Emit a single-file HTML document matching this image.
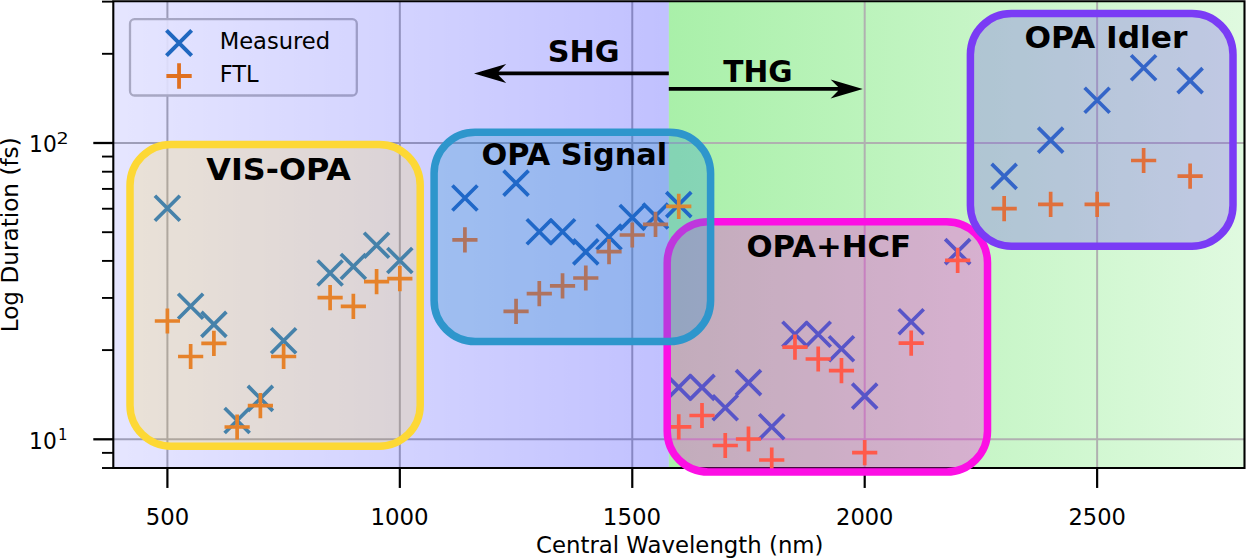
<!DOCTYPE html>
<html><head><meta charset="utf-8"><title>Pulse duration vs central wavelength</title>
<style>html,body{margin:0;padding:0;background:#fff;}body{width:1246px;height:558px;overflow:hidden;}svg{display:block;}text{font-family:"DejaVu Sans","Liberation Sans",sans-serif;fill:#000;}.b{font-weight:bold;font-size:29.3px;}.t{font-size:22.5px;}.s{font-size:15.8px;}</style>
</head><body>
<svg width="1246" height="558" viewBox="0 0 1246 558">
<defs>
<linearGradient id="gb" x1="0" x2="1" y1="0" y2="0"><stop offset="0" stop-color="#0000ff" stop-opacity="0.10"/><stop offset="1" stop-color="#0000ff" stop-opacity="0.245"/></linearGradient>
<linearGradient id="gg" x1="0" x2="1" y1="0" y2="0"><stop offset="0" stop-color="#a9f0a9"/><stop offset="1" stop-color="#e0fae0"/></linearGradient>
<clipPath id="cp"><rect x="113.30" y="1.25" width="1131.20" height="466.80"/></clipPath>
</defs>
<rect width="1246" height="558" fill="#fff"/>
<g clip-path="url(#cp)">
<rect x="668.80" y="0" width="575.70" height="468.05" fill="url(#gg)"/>
<line x1="167.40" x2="167.40" y1="0" y2="468.05" stroke="#b0b0b0" stroke-width="2"/>
<line x1="399.83" x2="399.83" y1="0" y2="468.05" stroke="#b0b0b0" stroke-width="2"/>
<line x1="632.27" x2="632.27" y1="0" y2="468.05" stroke="#b0b0b0" stroke-width="2"/>
<line x1="864.70" x2="864.70" y1="0" y2="468.05" stroke="#b0b0b0" stroke-width="2"/>
<line x1="1097.13" x2="1097.13" y1="0" y2="468.05" stroke="#b0b0b0" stroke-width="2"/>
<line x1="113.30" x2="1244.50" y1="439.30" y2="439.30" stroke="#b0b0b0" stroke-width="2"/>
<line x1="113.30" x2="1244.50" y1="143.00" y2="143.00" stroke="#b0b0b0" stroke-width="2"/>
<rect x="130.0" y="19.2" width="226.8" height="76.3" rx="4.5" ry="4.5" fill="#ffffff" fill-opacity="0.9" stroke="#bcbcbc" stroke-width="2.3"/>
<rect x="113.30" y="0" width="555.50" height="468.05" fill="url(#gb)"/>
</g>
<path d="M112.25 1.25H1245.55M112.25 468.05H1245.55M113.30 1.25V468.05M1244.50 1.25V468.05" fill="none" stroke="#000" stroke-width="2.1"/>
<line x1="167.40" x2="167.40" y1="468.05" y2="487.95" stroke="#000" stroke-width="2.2"/>
<text class="t" transform="translate(145.73,525.20) scale(1.0113,1)">500</text>
<line x1="399.83" x2="399.83" y1="468.05" y2="487.95" stroke="#000" stroke-width="2.2"/>
<text class="t" transform="translate(370.39,525.20) scale(1.0178,1)">1000</text>
<line x1="632.27" x2="632.27" y1="468.05" y2="487.95" stroke="#000" stroke-width="2.2"/>
<text class="t" transform="translate(602.82,525.20) scale(1.0178,1)">1500</text>
<line x1="864.70" x2="864.70" y1="468.05" y2="487.95" stroke="#000" stroke-width="2.2"/>
<text class="t" transform="translate(836.04,525.20) scale(1.0037,1)">2000</text>
<line x1="1097.13" x2="1097.13" y1="468.05" y2="487.95" stroke="#000" stroke-width="2.2"/>
<text class="t" transform="translate(1068.48,525.20) scale(1.0037,1)">2500</text>
<line x1="93.30" x2="113.30" y1="439.30" y2="439.30" stroke="#000" stroke-width="2.3"/>
<line x1="93.30" x2="113.30" y1="143.00" y2="143.00" stroke="#000" stroke-width="2.3"/>
<line x1="102.00" x2="113.30" y1="468.01" y2="468.01" stroke="#000" stroke-width="1.9"/>
<line x1="102.00" x2="113.30" y1="452.86" y2="452.86" stroke="#000" stroke-width="1.9"/>
<line x1="102.00" x2="113.30" y1="350.10" y2="350.10" stroke="#000" stroke-width="1.9"/>
<line x1="102.00" x2="113.30" y1="297.93" y2="297.93" stroke="#000" stroke-width="1.9"/>
<line x1="102.00" x2="113.30" y1="260.91" y2="260.91" stroke="#000" stroke-width="1.9"/>
<line x1="102.00" x2="113.30" y1="232.20" y2="232.20" stroke="#000" stroke-width="1.9"/>
<line x1="102.00" x2="113.30" y1="208.73" y2="208.73" stroke="#000" stroke-width="1.9"/>
<line x1="102.00" x2="113.30" y1="188.90" y2="188.90" stroke="#000" stroke-width="1.9"/>
<line x1="102.00" x2="113.30" y1="171.71" y2="171.71" stroke="#000" stroke-width="1.9"/>
<line x1="102.00" x2="113.30" y1="156.56" y2="156.56" stroke="#000" stroke-width="1.9"/>
<line x1="102.00" x2="113.30" y1="53.80" y2="53.80" stroke="#000" stroke-width="1.9"/>
<line x1="102.00" x2="113.30" y1="1.63" y2="1.63" stroke="#000" stroke-width="1.9"/>
<text class="t" transform="translate(29.09,448.50) scale(0.9657,1)">10</text>
<text class="s" transform="translate(57.94,440.00) scale(0.9481,1)">1</text>
<text class="t" transform="translate(29.09,152.20) scale(0.9657,1)">10</text>
<text class="s" transform="translate(56.38,143.70) scale(1.2138,1)">2</text>
<rect x="130.00" y="144.40" width="290.20" height="301.80" rx="41.00" ry="41.00" fill="#fdd835" fill-opacity="0.20"/>
<path d="M154.90 195.80L179.90 220.80M154.90 220.80L179.90 195.80" stroke="#4682aa" stroke-width="3.70" fill="none" stroke-linecap="butt"/>
<path d="M178.14 293.80L203.14 318.80M178.14 318.80L203.14 293.80" stroke="#4682aa" stroke-width="3.70" fill="none" stroke-linecap="butt"/>
<path d="M201.39 311.90L226.39 336.90M201.39 336.90L226.39 311.90" stroke="#4682aa" stroke-width="3.70" fill="none" stroke-linecap="butt"/>
<path d="M224.63 408.00L249.63 433.00M224.63 433.00L249.63 408.00" stroke="#4682aa" stroke-width="3.70" fill="none" stroke-linecap="butt"/>
<path d="M247.87 385.90L272.87 410.90M247.87 410.90L272.87 385.90" stroke="#4682aa" stroke-width="3.70" fill="none" stroke-linecap="butt"/>
<path d="M271.12 328.30L296.12 353.30M271.12 353.30L296.12 328.30" stroke="#4682aa" stroke-width="3.70" fill="none" stroke-linecap="butt"/>
<path d="M317.60 260.50L342.60 285.50M317.60 285.50L342.60 260.50" stroke="#4682aa" stroke-width="3.70" fill="none" stroke-linecap="butt"/>
<path d="M340.85 254.00L365.85 279.00M340.85 279.00L365.85 254.00" stroke="#4682aa" stroke-width="3.70" fill="none" stroke-linecap="butt"/>
<path d="M364.09 232.80L389.09 257.80M364.09 257.80L389.09 232.80" stroke="#4682aa" stroke-width="3.70" fill="none" stroke-linecap="butt"/>
<path d="M387.33 248.00L412.33 273.00M387.33 273.00L412.33 248.00" stroke="#4682aa" stroke-width="3.70" fill="none" stroke-linecap="butt"/>
<path d="M154.80 321.00L180.00 321.00M167.40 308.40L167.40 333.60" stroke="#e6822a" stroke-width="3.70" fill="none" stroke-linecap="butt"/>
<path d="M178.04 356.50L203.24 356.50M190.64 343.90L190.64 369.10" stroke="#e6822a" stroke-width="3.70" fill="none" stroke-linecap="butt"/>
<path d="M201.29 343.30L226.49 343.30M213.89 330.70L213.89 355.90" stroke="#e6822a" stroke-width="3.70" fill="none" stroke-linecap="butt"/>
<path d="M224.53 427.00L249.73 427.00M237.13 414.40L237.13 439.60" stroke="#e6822a" stroke-width="3.70" fill="none" stroke-linecap="butt"/>
<path d="M247.77 405.60L272.97 405.60M260.37 393.00L260.37 418.20" stroke="#e6822a" stroke-width="3.70" fill="none" stroke-linecap="butt"/>
<path d="M271.02 356.50L296.22 356.50M283.62 343.90L283.62 369.10" stroke="#e6822a" stroke-width="3.70" fill="none" stroke-linecap="butt"/>
<path d="M317.50 297.70L342.70 297.70M330.10 285.10L330.10 310.30" stroke="#e6822a" stroke-width="3.70" fill="none" stroke-linecap="butt"/>
<path d="M340.75 306.30L365.95 306.30M353.35 293.70L353.35 318.90" stroke="#e6822a" stroke-width="3.70" fill="none" stroke-linecap="butt"/>
<path d="M363.99 281.70L389.19 281.70M376.59 269.10L376.59 294.30" stroke="#e6822a" stroke-width="3.70" fill="none" stroke-linecap="butt"/>
<path d="M387.23 278.60L412.43 278.60M399.83 266.00L399.83 291.20" stroke="#e6822a" stroke-width="3.70" fill="none" stroke-linecap="butt"/>
<rect x="130.00" y="144.40" width="290.20" height="301.80" rx="41.00" ry="41.00" fill="none" stroke="#fdd835" stroke-width="7.50"/>
<rect x="667.20" y="221.70" width="320.30" height="250.30" rx="41.00" ry="41.00" fill="#fc0fe4" fill-opacity="0.30"/>
<path d="M666.25 374.90L691.25 399.90M666.25 399.90L691.25 374.90" stroke="#5855c8" stroke-width="3.70" fill="none" stroke-linecap="butt"/>
<path d="M689.50 374.90L714.50 399.90M689.50 399.90L714.50 374.90" stroke="#5855c8" stroke-width="3.70" fill="none" stroke-linecap="butt"/>
<path d="M712.74 395.20L737.74 420.20M712.74 420.20L737.74 395.20" stroke="#5855c8" stroke-width="3.70" fill="none" stroke-linecap="butt"/>
<path d="M735.98 370.10L760.98 395.10M735.98 395.10L760.98 370.10" stroke="#5855c8" stroke-width="3.70" fill="none" stroke-linecap="butt"/>
<path d="M759.23 414.30L784.23 439.30M759.23 439.30L784.23 414.30" stroke="#5855c8" stroke-width="3.70" fill="none" stroke-linecap="butt"/>
<path d="M782.47 321.70L807.47 346.70M782.47 346.70L807.47 321.70" stroke="#5855c8" stroke-width="3.70" fill="none" stroke-linecap="butt"/>
<path d="M805.71 321.70L830.71 346.70M805.71 346.70L830.71 321.70" stroke="#5855c8" stroke-width="3.70" fill="none" stroke-linecap="butt"/>
<path d="M828.96 336.20L853.96 361.20M828.96 361.20L853.96 336.20" stroke="#5855c8" stroke-width="3.70" fill="none" stroke-linecap="butt"/>
<path d="M852.20 383.60L877.20 408.60M852.20 408.60L877.20 383.60" stroke="#5855c8" stroke-width="3.70" fill="none" stroke-linecap="butt"/>
<path d="M898.69 309.30L923.69 334.30M898.69 334.30L923.69 309.30" stroke="#5855c8" stroke-width="3.70" fill="none" stroke-linecap="butt"/>
<path d="M945.17 239.10L970.17 264.10M945.17 264.10L970.17 239.10" stroke="#5855c8" stroke-width="3.70" fill="none" stroke-linecap="butt"/>
<path d="M666.15 426.80L691.35 426.80M678.75 414.20L678.75 439.40" stroke="#ff5a4b" stroke-width="3.70" fill="none" stroke-linecap="butt"/>
<path d="M689.40 415.50L714.60 415.50M702.00 402.90L702.00 428.10" stroke="#ff5a4b" stroke-width="3.70" fill="none" stroke-linecap="butt"/>
<path d="M712.64 445.50L737.84 445.50M725.24 432.90L725.24 458.10" stroke="#ff5a4b" stroke-width="3.70" fill="none" stroke-linecap="butt"/>
<path d="M735.88 439.00L761.08 439.00M748.48 426.40L748.48 451.60" stroke="#ff5a4b" stroke-width="3.70" fill="none" stroke-linecap="butt"/>
<path d="M759.13 460.00L784.33 460.00M771.73 447.40L771.73 472.60" stroke="#ff5a4b" stroke-width="3.70" fill="none" stroke-linecap="butt"/>
<path d="M782.37 347.10L807.57 347.10M794.97 334.50L794.97 359.70" stroke="#ff5a4b" stroke-width="3.70" fill="none" stroke-linecap="butt"/>
<path d="M805.61 359.00L830.81 359.00M818.21 346.40L818.21 371.60" stroke="#ff5a4b" stroke-width="3.70" fill="none" stroke-linecap="butt"/>
<path d="M828.86 370.60L854.06 370.60M841.46 358.00L841.46 383.20" stroke="#ff5a4b" stroke-width="3.70" fill="none" stroke-linecap="butt"/>
<path d="M852.10 452.60L877.30 452.60M864.70 440.00L864.70 465.20" stroke="#ff5a4b" stroke-width="3.70" fill="none" stroke-linecap="butt"/>
<path d="M898.59 343.20L923.79 343.20M911.19 330.60L911.19 355.80" stroke="#ff5a4b" stroke-width="3.70" fill="none" stroke-linecap="butt"/>
<path d="M945.07 260.30L970.27 260.30M957.67 247.70L957.67 272.90" stroke="#ff5a4b" stroke-width="3.70" fill="none" stroke-linecap="butt"/>
<rect x="667.20" y="221.70" width="320.30" height="250.30" rx="41.00" ry="41.00" fill="none" stroke="#fc0fe4" stroke-width="7.50"/>
<rect x="434.10" y="132.30" width="276.50" height="209.20" rx="41.00" ry="41.00" fill="#2e96cc" fill-opacity="0.30"/>
<path d="M452.41 185.50L477.41 210.50M452.41 210.50L477.41 185.50" stroke="#2068c8" stroke-width="3.70" fill="none" stroke-linecap="butt"/>
<path d="M503.55 170.60L528.55 195.60M503.55 195.60L528.55 170.60" stroke="#2068c8" stroke-width="3.70" fill="none" stroke-linecap="butt"/>
<path d="M526.79 219.30L551.79 244.30M526.79 244.30L551.79 219.30" stroke="#2068c8" stroke-width="3.70" fill="none" stroke-linecap="butt"/>
<path d="M550.04 219.30L575.04 244.30M550.04 244.30L575.04 219.30" stroke="#2068c8" stroke-width="3.70" fill="none" stroke-linecap="butt"/>
<path d="M573.28 239.40L598.28 264.40M573.28 264.40L598.28 239.40" stroke="#2068c8" stroke-width="3.70" fill="none" stroke-linecap="butt"/>
<path d="M596.52 224.50L621.52 249.50M596.52 249.50L621.52 224.50" stroke="#2068c8" stroke-width="3.70" fill="none" stroke-linecap="butt"/>
<path d="M619.77 205.00L644.77 230.00M619.77 230.00L644.77 205.00" stroke="#2068c8" stroke-width="3.70" fill="none" stroke-linecap="butt"/>
<path d="M643.01 203.50L668.01 228.50M643.01 228.50L668.01 203.50" stroke="#2068c8" stroke-width="3.70" fill="none" stroke-linecap="butt"/>
<path d="M452.31 239.90L477.51 239.90M464.91 227.30L464.91 252.50" stroke="#af735f" stroke-width="3.70" fill="none" stroke-linecap="butt"/>
<path d="M503.45 311.30L528.65 311.30M516.05 298.70L516.05 323.90" stroke="#af735f" stroke-width="3.70" fill="none" stroke-linecap="butt"/>
<path d="M526.69 293.70L551.89 293.70M539.29 281.10L539.29 306.30" stroke="#af735f" stroke-width="3.70" fill="none" stroke-linecap="butt"/>
<path d="M549.94 285.80L575.14 285.80M562.54 273.20L562.54 298.40" stroke="#af735f" stroke-width="3.70" fill="none" stroke-linecap="butt"/>
<path d="M573.18 278.00L598.38 278.00M585.78 265.40L585.78 290.60" stroke="#af735f" stroke-width="3.70" fill="none" stroke-linecap="butt"/>
<path d="M596.42 251.60L621.62 251.60M609.02 239.00L609.02 264.20" stroke="#af735f" stroke-width="3.70" fill="none" stroke-linecap="butt"/>
<path d="M619.67 235.00L644.87 235.00M632.27 222.40L632.27 247.60" stroke="#af735f" stroke-width="3.70" fill="none" stroke-linecap="butt"/>
<path d="M642.91 224.40L668.11 224.40M655.51 211.80L655.51 237.00" stroke="#af735f" stroke-width="3.70" fill="none" stroke-linecap="butt"/>
<path d="M666.25 192.10L691.25 217.10M666.25 217.10L691.25 192.10" stroke="#2068c8" stroke-width="3.70" fill="none" stroke-linecap="butt"/>
<path d="M666.15 206.30L691.35 206.30M678.75 193.70L678.75 218.90" stroke="#d88835" stroke-width="3.70" fill="none" stroke-linecap="butt"/>
<rect x="434.10" y="132.30" width="276.50" height="209.20" rx="41.00" ry="41.00" fill="none" stroke="#2e96cc" stroke-width="7.50"/>
<rect x="970.40" y="13.50" width="262.60" height="232.70" rx="41.00" ry="41.00" fill="#7a55ee" fill-opacity="0.30"/>
<path d="M991.66 163.90L1016.66 188.90M991.66 188.90L1016.66 163.90" stroke="#3465c8" stroke-width="3.70" fill="none" stroke-linecap="butt"/>
<path d="M1038.15 127.60L1063.15 152.60M1038.15 152.60L1063.15 127.60" stroke="#3465c8" stroke-width="3.70" fill="none" stroke-linecap="butt"/>
<path d="M1084.63 87.80L1109.63 112.80M1084.63 112.80L1109.63 87.80" stroke="#3465c8" stroke-width="3.70" fill="none" stroke-linecap="butt"/>
<path d="M1131.12 55.20L1156.12 80.20M1131.12 80.20L1156.12 55.20" stroke="#3465c8" stroke-width="3.70" fill="none" stroke-linecap="butt"/>
<path d="M1177.61 68.10L1202.61 93.10M1177.61 93.10L1202.61 68.10" stroke="#3465c8" stroke-width="3.70" fill="none" stroke-linecap="butt"/>
<path d="M991.56 208.70L1016.76 208.70M1004.16 196.10L1004.16 221.30" stroke="#e0703c" stroke-width="3.70" fill="none" stroke-linecap="butt"/>
<path d="M1038.05 204.40L1063.25 204.40M1050.65 191.80L1050.65 217.00" stroke="#e0703c" stroke-width="3.70" fill="none" stroke-linecap="butt"/>
<path d="M1084.53 204.40L1109.73 204.40M1097.13 191.80L1097.13 217.00" stroke="#e0703c" stroke-width="3.70" fill="none" stroke-linecap="butt"/>
<path d="M1131.02 160.50L1156.22 160.50M1143.62 147.90L1143.62 173.10" stroke="#e0703c" stroke-width="3.70" fill="none" stroke-linecap="butt"/>
<path d="M1177.51 176.10L1202.71 176.10M1190.11 163.50L1190.11 188.70" stroke="#e0703c" stroke-width="3.70" fill="none" stroke-linecap="butt"/>
<rect x="970.40" y="13.50" width="262.60" height="232.70" rx="41.00" ry="41.00" fill="none" stroke="#7a3cf5" stroke-width="7.50"/>
<path d="M474.00 73.40 L506.20 63.90 L498.60 71.60 L668.80 71.60 L668.80 75.20 L498.60 75.20 L506.20 82.90 Z" fill="#000"/>
<path d="M862.80 88.90 L830.60 79.40 L838.20 87.10 L668.80 87.10 L668.80 90.70 L838.20 90.70 L830.60 98.40 Z" fill="#000"/>
<text class="b" transform="translate(547.74,61.80) scale(1.0321,1)">SHG</text>
<text class="b" transform="translate(723.35,81.70) scale(1.0113,1)">THG</text>
<text class="b" transform="translate(206.33,179.80) scale(1.0863,1)">VIS-OPA</text>
<text class="b" transform="translate(481.55,165.20) scale(1.0348,1)">OPA Signal</text>
<text class="b" transform="translate(746.43,257.00) scale(1.0490,1)">OPA+HCF</text>
<text class="b" transform="translate(1024.40,48.40) scale(1.0671,1)">OPA Idler</text>
<path d="M166.45 30.35L191.65 55.55M166.45 55.55L191.65 30.35" stroke="#2068c0" stroke-width="4.00" fill="none" stroke-linecap="butt"/>
<path d="M166.40 76.00L191.70 76.00M179.05 63.35L179.05 88.65" stroke="#e07020" stroke-width="3.80" fill="none" stroke-linecap="butt"/>
<text class="t" transform="translate(219.64,48.90) scale(1.0057,1)">Measured</text>
<text class="t" transform="translate(219.64,82.40) scale(1.0027,1)">FTL</text>
<text class="t" transform="translate(536.03,552.80) scale(1.0145,1)">Central Wavelength (nm)</text>
<text class="t" transform="translate(17.9,332.32) rotate(-90) scale(1.0300,1)">Log Duration (fs)</text>
</svg></body></html>
